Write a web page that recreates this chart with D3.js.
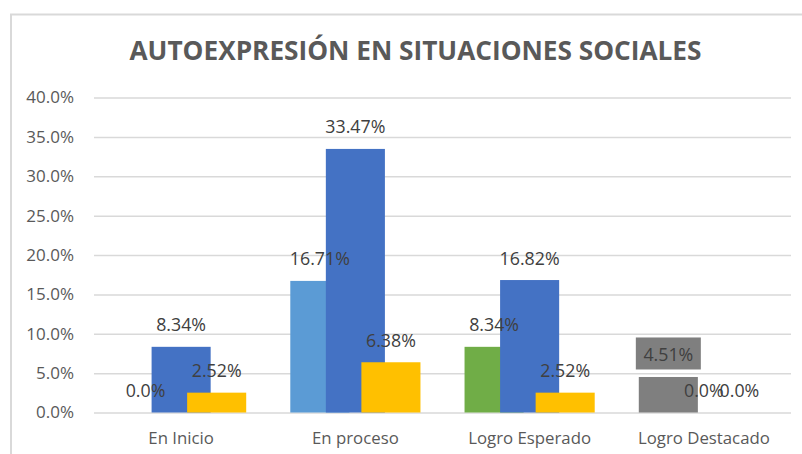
<!DOCTYPE html>
<html>
<head>
<meta charset="utf-8">
<script src="https://cdn.jsdelivr.net/npm/d3@7"></script>
<style>
  body { margin: 0; background: #fff; }
  svg text { font-family: "Open Sans", sans-serif; }
</style>
</head>
<body>
<svg id="chart" width="802" height="454"></svg>
<script>
const categories = ['En Inicio', 'En proceso', 'Logro Esperado', 'Logro Destacado'];
const seriesNames = ['s1', 's2', 's3'];
const series1 = [0, 16.71, 8.34, 4.51];
const series2 = [8.34, 33.47, 16.82, 0];
const series3 = [2.52, 6.38, 2.52, 0];
const yTicks = [0, 5, 10, 15, 20, 25, 30, 35, 40];

// first series has its colours varied by point
const series1Colors = ['#5b9bd5', '#5b9bd5', '#70ad47', '#7f7f7f'];
const seriesColors = [null, '#4472c4', '#ffc000'];

const svg = d3.select('#chart');
const margin = { left: 94, right: 11, top: 97.5, bottom: 41.5 };
const W = 802, H = 454;

const x = d3.scaleBand().domain(categories).range([margin.left, W - margin.right]).paddingInner(0).paddingOuter(0);
const y = d3.scaleLinear().domain([0, 40]).range([H - margin.bottom, margin.top]);
const bw = x.bandwidth();
const offset = d3.scalePoint().domain(seriesNames).range([-bw * 0.204, bw * 0.204]);
const barW = bw * 0.339;

// outer frame
svg.append('path')
  .attr('d', 'M11,454 V14.5 H802')
  .attr('fill', 'none').attr('stroke', '#d9d9d9').attr('stroke-width', 2);

svg.append('text')
  .attr('x', 415.5).attr('y', 60)
  .attr('text-anchor', 'middle')
  .attr('font-size', 26).attr('font-weight', 700)
  .attr('textLength', 572).attr('lengthAdjust', 'spacingAndGlyphs')
  .attr('fill', '#595959')
  .text('AUTOEXPRESIÓN EN SITUACIONES SOCIALES');

// gridlines + y labels
const yAxis = d3.axisLeft(y).tickValues(yTicks).tickSize(-(W - margin.right - margin.left))
  .tickPadding(20).tickFormat(d => d.toFixed(1) + '%');
const gy = svg.append('g').attr('transform', `translate(${margin.left},0)`).call(yAxis);
gy.select('.domain').remove();
gy.selectAll('.tick line').attr('stroke', '#d9d9d9').attr('stroke-width', 1.5);
gy.selectAll('.tick text').attr('fill', '#595959').attr('font-size', 17)
  .attr('font-family', '"Open Sans", sans-serif');

// x labels
const xAxis = d3.axisBottom(x).tickSize(0).tickPadding(20);
const gx = svg.append('g').attr('transform', `translate(0,${y(0)})`).call(xAxis);
gx.select('.domain').remove();
gx.selectAll('.tick text').attr('fill', '#595959').attr('font-size', 16.8)
  .attr('font-family', '"Open Sans", sans-serif');

const allSeries = [series1, series2, series3];
const bars = [];
allSeries.forEach((vals, si) => {
  vals.forEach((v, ci) => {
    bars.push({
      cat: categories[ci], s: seriesNames[si], v: v,
      color: si === 0 ? series1Colors[ci] : seriesColors[si],
      boxed: si === 0 && ci === 3
    });
  });
});

const cx = d => x(d.cat) + bw / 2 + offset(d.s);

svg.append('g').selectAll('rect').data(bars).join('rect')
  .attr('x', d => cx(d) - barW / 2)
  .attr('y', d => y(d.v))
  .attr('width', barW)
  .attr('height', d => y(0) - y(d.v))
  .attr('fill', d => d.color);

const fmt = v => v === 0 ? '0.0%' : v.toFixed(2) + '%';

const lbl = svg.append('g');
// label box behind the 4.51% label
lbl.selectAll('rect').data(bars.filter(d => d.boxed)).join('rect')
  .attr('x', d => cx(d) - 32.5)
  .attr('y', d => y(d.v) - 39.5)
  .attr('width', 65).attr('height', 32)
  .attr('fill', '#7f7f7f');

lbl.selectAll('text').data(bars).join('text')
  .attr('x', d => cx(d))
  .attr('y', d => y(d.v) - 15.5)
  .attr('text-anchor', 'middle')
  .attr('font-size', 17.8)
  .attr('fill', '#404040')
  .text(d => fmt(d.v));
</script>
</body>
</html>
